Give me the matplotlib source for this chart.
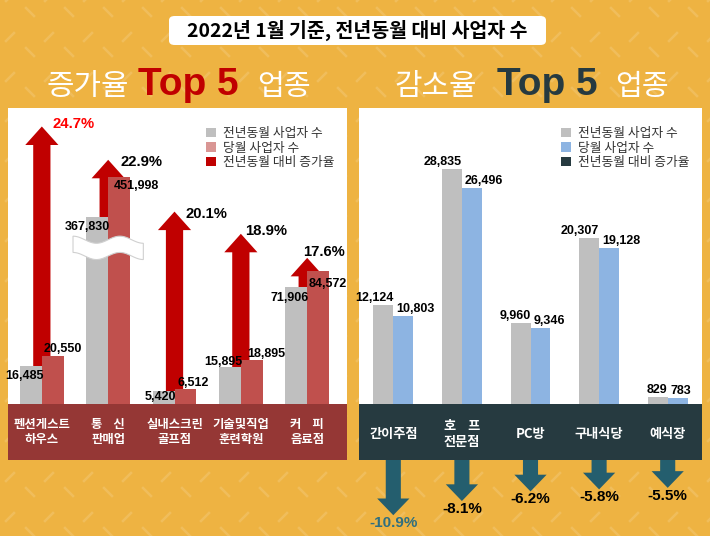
import numpy as np
import matplotlib
matplotlib.use('Agg')
import matplotlib.pyplot as plt
from matplotlib.patches import Patch, Rectangle, FancyBboxPatch, Polygon
from matplotlib.lines import Line2D

plt.rcParams['font.family'] = ['Noto Sans CJK KR', 'DejaVu Sans']
NUM_FONT = ['Liberation Sans', 'Noto Sans CJK KR']

# 증가율 Top 5 업종
up_names = ['펜션게스트\n하우스', '통    신\n판매업', '실내스크린\n골프점', '기술및직업\n훈련학원', '커    피\n음료점']
up_prev = [16485, 367830, 5420, 15895, 71906]
up_now = [20550, 451998, 6512, 18895, 84572]
up_rate = [24.7, 22.9, 20.1, 18.9, 17.6]

# 감소율 Top 5 업종
down_names = ['간이주점', '호    프\n전문점', 'PC방', '구내식당', '예식장']
down_prev = [12124, 28835, 9960, 20307, 829]
down_now = [10803, 26496, 9346, 19128, 783]
down_rate = [-10.9, -8.1, -6.2, -5.8, -5.5]

legend_up = ['전년동월 사업자 수', '당월 사업자 수', '전년동월 대비 증가율']
legend_down = ['전년동월 사업자 수', '당월 사업자 수', '전년동월 대비 증가율']

ORANGE = '#EEB342'
GRAY = '#BFBFBF'
RED_BAR = '#C0504D'
RED = '#C00000'
BLUE = '#8DB4E2'
DARK = '#263A40'
TEAL = '#245E6E'

W, H = 710, 536
fig = plt.figure(figsize=(7.1, 5.36), dpi=100)
fig.patch.set_facecolor(ORANGE)


def box(x0, y0, x1, y1):
    # pixel box (origin top-left) -> figure rect
    return [x0 / W, 1 - y1 / H, (x1 - x0) / W, (y1 - y0) / H]


def clean(ax):
    ax.set_xticks([])
    ax.set_yticks([])
    for s in ax.spines.values():
        s.set_visible(False)


# background dash pattern
for j in range(-1, 14):
    for i in range(-1, 19):
        for (ox, oy, sgn) in [(10, 37, 1), (30, 52, -1)]:
            x = ox + 39 * i
            y = oy + 40 * j
            fig.add_artist(Line2D([(x - 4) / W, (x + 4) / W],
                                  [1 - (y + 4 * sgn) / H, 1 - (y - 4 * sgn) / H],
                                  color='white', alpha=0.14, lw=1.8, zorder=0.5))

# title box
fig.add_artist(FancyBboxPatch((169 / W, 1 - 45 / H), 377 / W, 29 / H,
                              boxstyle='round,pad=0,rounding_size=0.008',
                              fc='white', ec='none', zorder=1))
fig.text(357 / W, 1 - 30 / H, '2022년 1월 기준, 전년동월 대비 사업자 수',
         ha='center', va='center', fontsize=14, weight='bold', color='black', zorder=2)

# subtitles (drawn under the panels)
for x0, txt, size, col, wt in [(47, '증가율', 21.5, 'white', 'normal'),
                               (138, 'Top 5', 28, RED, 'bold'),
                               (257, '업종', 21, 'white', 'normal'),
                               (395, '감소율', 21.5, 'white', 'normal'),
                               (497, 'Top 5', 28, DARK, 'bold'),
                               (615, '업종', 21, 'white', 'normal')]:
    fig.text(x0 / W, 1 - 95 / H, txt, ha='left', va='baseline',
             fontsize=size, color=col, weight=wt, zorder=1,
             family=NUM_FONT if txt.startswith('Top') else None)

x = np.arange(5)

# ---------------- left panel ----------------
ax_la = fig.add_axes(box(8, 108, 347, 404))
ax_la.set_facecolor('white')
ax_la.set_zorder(2)
ax_la.set_xlim(-0.51, 4.6)
ax_la.set_ylim(9.7, 25.7)
clean(ax_la)
for i, r in enumerate(up_rate):
    ax_la.arrow(i, 9.7, 0, r - 9.7, width=0.26, head_width=0.5, head_length=1.0,
                length_includes_head=True, color=RED, lw=0)

ax_l = fig.add_axes(box(8, 108, 347, 404))
ax_l.set_facecolor('none')
ax_l.set_zorder(3)
V = [0, 25000, 90000, 350000, 480000, 560000]
P = [0, 58, 140, 178, 240, 296]
ax_l.set_yscale('function', functions=(lambda v: np.interp(v, V, P),
                                       lambda p: np.interp(p, P, V)))
ax_l.set_ylim(0, 560000)
ax_l.set_xlim(-0.51, 4.6)
clean(ax_l)
w = 0.33
ax_l.bar(x - w / 2, up_prev, w, color=GRAY, zorder=2)
ax_l.bar(x + w / 2, up_now, w, color=RED_BAR, zorder=2)

gray_dy = [-10, -10, -6, 5, -11]
red_dy = [7, -9, 6, 6, -13]
red_dx = [2, 6, 3, 6, 1]
for i in range(5):
    ax_l.annotate(f'{up_prev[i]:,}', (i, up_prev[i]), xytext=(2, gray_dy[i]),
                  textcoords='offset pixels', ha='right', va='center',
                  fontsize=9, weight='bold', family=NUM_FONT, zorder=5)
    ax_l.annotate(f'{up_now[i]:,}', (i, up_now[i]), xytext=(red_dx[i], red_dy[i]),
                  textcoords='offset pixels', ha='left', va='center',
                  fontsize=9, weight='bold', family=NUM_FONT, zorder=5)

# broken-bar symbol on 통신판매업
xs = np.linspace(-0.53, 0.53, 60)
wave = 0.012 * np.sin(xs / 0.53 * np.pi * 1.5)
poly = np.vstack([np.column_stack([1 + xs, 0.555 + wave]),
                  np.column_stack([1 + xs[::-1], 0.50 + wave[::-1]])])
ax_l.add_patch(Polygon(poly, closed=True, transform=ax_l.get_xaxis_transform(),
                       fc='white', ec='#D0D0D0', lw=0.8, zorder=4))

pct_dx = [11, 12, 11, 4, -4]
pct_dy = [2, -2, -2, 3, 6]
for i, r in enumerate(up_rate):
    ax_la.annotate(f'{r}%', (i, r), xytext=(pct_dx[i], pct_dy[i]),
                   textcoords='offset pixels', ha='left', va='center',
                   fontsize=10.7, weight='bold', family=NUM_FONT,
                   color='#FF0000' if i == 0 else 'black', zorder=5)

fig.add_artist(Rectangle((8 / W, 1 - 460 / H), 339 / W, 56 / H, fc='#953735', ec='none', zorder=2))
for i, name in enumerate(up_names):
    ax_l.text(i, -28 / 296, name, transform=ax_l.get_xaxis_transform(),
              ha='center', va='center', fontsize=8.9, weight='bold',
              color='white', linespacing=1.2)

ax_l.legend([Patch(fc=GRAY), Patch(fc='#D99694'), Patch(fc=RED)], legend_up,
            loc='upper left', bbox_to_anchor=(206 / W, 1 - 127 / H),
            bbox_transform=fig.transFigure, frameon=False, fontsize=9.2,
            handlelength=0.75, handleheight=0.75, handletextpad=0.55,
            labelspacing=0.12, borderpad=0, borderaxespad=0, labelcolor='#333333')

# ---------------- right panel ----------------
ax_r = fig.add_axes(box(359, 108, 702, 404))
ax_r.set_facecolor('white')
ax_r.set_zorder(3)
ax_r.set_xlim(-0.5, 4.5)
ax_r.set_ylim(0, 36300)
clean(ax_r)
w = 0.29
ax_r.bar(x - w / 2, down_prev, w, color=GRAY)
ax_r.bar(x + w / 2, down_now, w, color=BLUE)
for i in range(5):
    ax_r.annotate(f'{down_prev[i]:,}', (i, down_prev[i]), xytext=(0, 7),
                  textcoords='offset pixels', ha='right', va='center',
                  fontsize=9, weight='bold', family=NUM_FONT)
    ax_r.annotate(f'{down_now[i]:,}', (i, down_now[i]), xytext=(3, 7),
                  textcoords='offset pixels', ha='left', va='center',
                  fontsize=9, weight='bold', family=NUM_FONT)

ax_r.legend([Patch(fc=GRAY), Patch(fc=BLUE), Patch(fc=DARK)], legend_down,
            loc='upper left', bbox_to_anchor=(561 / W, 1 - 127 / H),
            bbox_transform=fig.transFigure, frameon=False, fontsize=9.2,
            handlelength=0.75, handleheight=0.75, handletextpad=0.55,
            labelspacing=0.12, borderpad=0, borderaxespad=0, labelcolor='#333333')

fig.add_artist(Rectangle((359 / W, 1 - 460 / H), 343 / W, 56 / H, fc=DARK, ec='none', zorder=2))
for i, name in enumerate(down_names):
    ax_r.text(i, -30 / 296, name, transform=ax_r.get_xaxis_transform(),
              ha='center', va='center', fontsize=9.5, weight='bold',
              color='white', linespacing=1.2)

ax_ra = fig.add_axes(box(359, 460, 702, 536))
ax_ra.set_facecolor('none')
ax_ra.set_zorder(3)
ax_ra.set_xlim(-0.5, 4.5)
ax_ra.set_ylim(-15, 0)
clean(ax_ra)
for i, r in enumerate(down_rate):
    ax_ra.arrow(i, 0, 0, r, width=0.22, head_width=0.47, head_length=3.3,
                length_includes_head=True, color=TEAL, lw=0)
    ax_ra.annotate(f'{r}%', (i, r), xytext=(0, -8), textcoords='offset pixels',
                   ha='center', va='center', fontsize=11, weight='bold',
                   family=NUM_FONT, annotation_clip=False,
                   color='#2F6F80' if i == 0 else 'black')

fig.savefig('out.png', dpi=100, facecolor=fig.get_facecolor())
